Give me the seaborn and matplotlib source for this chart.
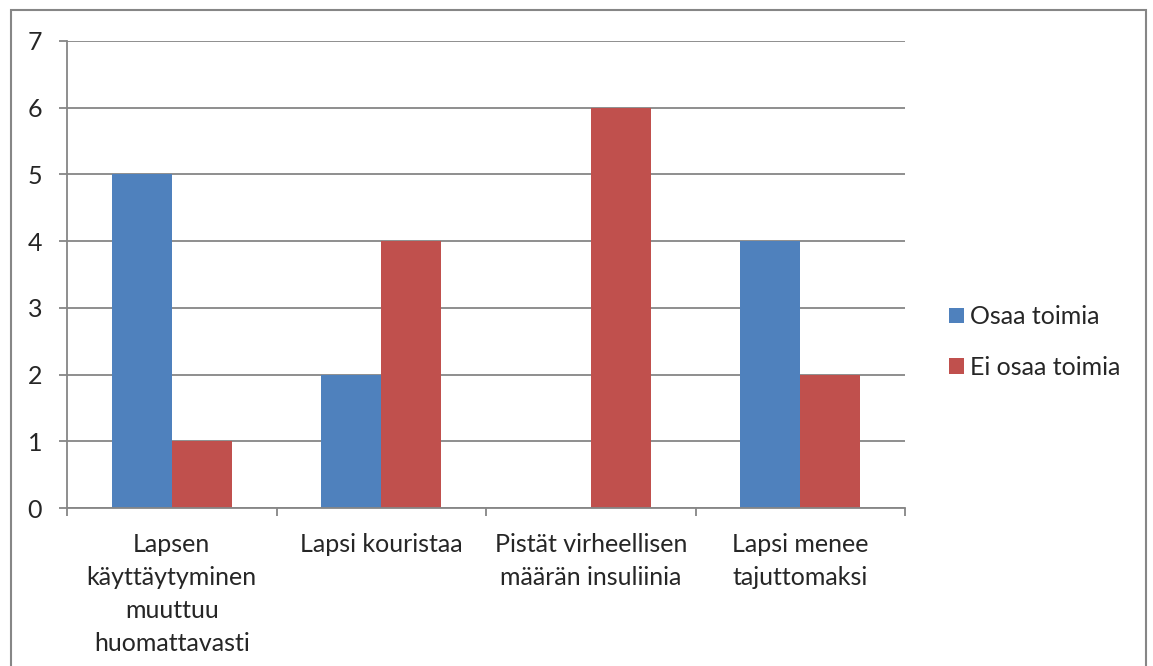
import matplotlib
matplotlib.use("Agg")
import matplotlib.pyplot as plt
import seaborn as sns
import pandas as pd
from matplotlib.patches import Rectangle, Patch

sns.set_style("white")
plt.rcParams['font.family'] = ['Lato', 'DejaVu Sans']

# Data
categories = [
    "Lapsen\nkäyttäytyminen\nmuuttuu\nhuomattavasti",
    "Lapsi kouristaa",
    "Pistät virheellisen\nmäärän insuliinia",
    "Lapsi menee\ntajuttomaksi",
]
series_names = ["Osaa toimia", "Ei osaa toimia"]
osaa_toimia = [5, 2, 0, 4]
ei_osaa_toimia = [1, 4, 6, 2]
y_ticks = [0, 1, 2, 3, 4, 5, 6, 7]

colors = ["#4F81BD", "#C0504D"]
grid_col = "#868686"
fs = 18

df = pd.DataFrame({
    "category": categories * 2,
    "series": [series_names[0]] * 4 + [series_names[1]] * 4,
    "value": osaa_toimia + ei_osaa_toimia,
})

fig = plt.figure(figsize=(11.53, 6.66), dpi=100)
ax = fig.add_axes([67 / 1153, 1 - 508 / 666, (905 - 67) / 1153, (508 - 41) / 666])

sns.barplot(data=df, x="category", y="value", hue="series", order=categories,
            hue_order=series_names, palette=colors, width=0.573, saturation=1,
            linewidth=0, ax=ax, legend=False)

ax.set_ylim(0, 7)
ax.set_xlim(-0.5, 3.5)
ax.set_yticks(y_ticks)
ax.set_yticklabels([str(t) for t in y_ticks], fontsize=fs)
ax.set_xlabel("")
ax.set_ylabel("")
ax.grid(axis="y", color=grid_col, linewidth=1.3)
ax.set_axisbelow(True)

for s in ["top", "right"]:
    ax.spines[s].set_visible(False)
for s in ["left", "bottom"]:
    ax.spines[s].set_color(grid_col)
    ax.spines[s].set_linewidth(1.3)

ax.tick_params(axis="y", length=6, width=1.3, color=grid_col, pad=12, left=True)
ax.set_xticks(range(4))
ax.set_xticklabels(categories, fontsize=fs, linespacing=1.52, va="top")
ax.tick_params(axis="x", which="major", length=0, pad=18)
ax.set_xticks([-0.5, 0.5, 1.5, 2.5, 3.5], minor=True)
ax.tick_params(axis="x", which="minor", length=6, width=1.3, color=grid_col, bottom=True)

handles = [Patch(facecolor=c, edgecolor="none") for c in colors]
fig.legend(handles, series_names, loc="center left", bbox_to_anchor=(926 / 1153, 1 - 342 / 666),
           frameon=False, fontsize=fs, handlelength=0.6, handleheight=0.6,
           handletextpad=0.25, labelspacing=1.1)

fig.patches.append(Rectangle((11 / 1153, -0.05), (1146 - 11) / 1153, 1.05 - 10 / 666,
                             transform=fig.transFigure, fill=False,
                             edgecolor=grid_col, linewidth=1.5))

plt.savefig("out.png", dpi=100)
plt.close()
